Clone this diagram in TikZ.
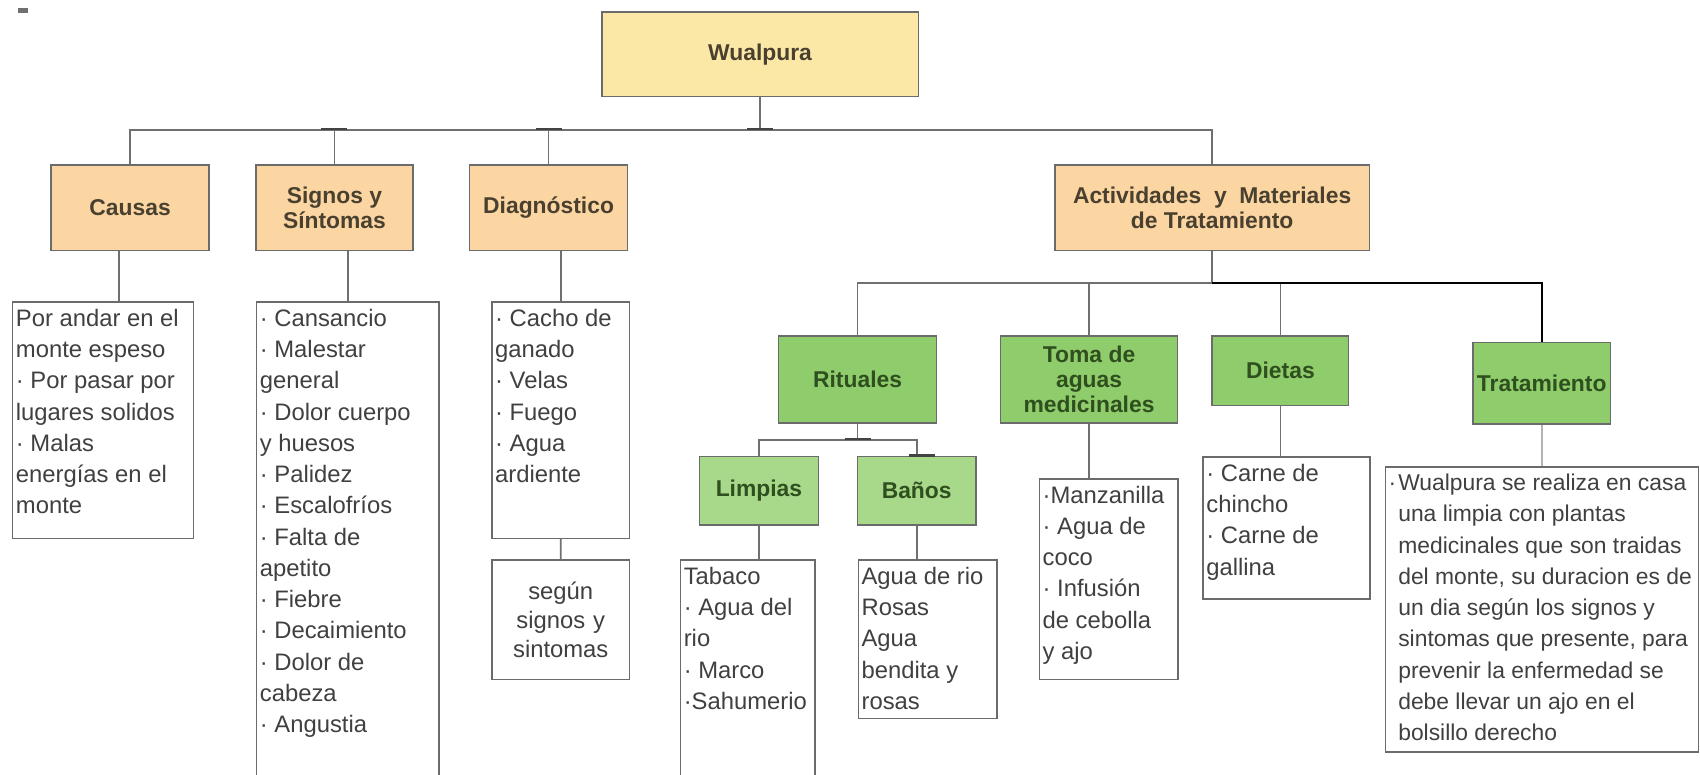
\documentclass[tikz,border=0pt]{standalone}
\usepackage{fontspec}
\setmainfont{Liberation Sans}

\definecolor{cYellow}{HTML}{FCE8A6}
\definecolor{cOrange}{HTML}{FBD6A2}
\definecolor{cGreen}{HTML}{8FCC6B}
\definecolor{cLightGreen}{HTML}{A8D98B}
\definecolor{cLine}{HTML}{6B6B6B}
\definecolor{cLink}{HTML}{707070}
\definecolor{cFaint}{HTML}{B4B4B4}
\definecolor{cBrown}{HTML}{4A4030}
\definecolor{cDarkGreen}{HTML}{2F4F1F}
\definecolor{cText}{HTML}{404040}

\newcommand{\cbody}[3]{\parbox[t][#2][t]{#1}{\raggedright #3}}

\begin{document}
\begin{tikzpicture}[x=0.02cm,y=-0.02cm,
    hdr/.style={draw=cLine,line width=0.8pt,align=center,inner sep=2pt,
        font=\bfseries\fontsize{12}{13}\selectfont},
    hdrO/.style={hdr,fill=cOrange,text=cBrown},
    hdrG/.style={hdr,fill=cGreen,text=cDarkGreen},
    txt/.style={draw=cLine,line width=0.8pt,fill=white,anchor=north west,
        inner xsep=0.06cm,inner ysep=0.13cm,text=cText,
        font=\fontsize{12.5}{16.4}\selectfont},
    link/.style={draw=cLink,line width=0.9pt},
    tick/.style={draw=cLink!60!black,line width=1.4pt}]

\useasboundingbox (0,0) rectangle (1568,714);
\fill[cLink] (17,7) rectangle (26,12);

% level 0 and 1
\node[hdr,fill=cYellow,text=cBrown,minimum width=5.84cm,minimum height=1.56cm] (wual) at (701,50) {Wualpura};
\node[hdrO,minimum width=2.92cm,minimum height=1.58cm] (causas) at (120,191.5) {Causas};
\node[hdrO,minimum width=2.9cm,minimum height=1.58cm] (signos) at (308.5,191.5) {Signos y\\Síntomas};
\node[hdrO,minimum width=2.92cm,minimum height=1.58cm] (diag) at (506,191.5) {Diagnóstico};
\node[hdrO,minimum width=5.8cm,minimum height=1.58cm] (activ) at (1118,191.5) {Actividades\ \ y\ \ Materiales\\de Tratamiento};

% level 2 and 3
\node[hdrG,minimum width=2.92cm,minimum height=1.6cm] (ritual) at (791,350) {Rituales};
\node[hdrG,minimum width=3.26cm,minimum height=1.6cm] (toma) at (1004.5,350) {Toma de\\aguas\\medicinales};
\node[hdrG,minimum width=2.52cm,minimum height=1.28cm] (dietas) at (1181,342) {Dietas};
\node[hdrG,minimum width=2.4cm,minimum height=1.5cm] (trat) at (1422,353.5) {Tratamiento};
\node[hdrG,fill=cLightGreen,minimum width=2.2cm,minimum height=1.26cm] (limpias) at (700,452.5) {Limpias};
\node[hdrG,fill=cLightGreen,minimum width=2.18cm,minimum height=1.26cm] (banos) at (845.5,452.5) {Baños};

% text boxes
\node[txt] (causasT) at (11,278) {\cbody{3.22cm}{4.1cm}{Por andar en el\\monte espeso\\· Por pasar por\\lugares solidos\\· Malas\\energías en el\\monte}};
\node[txt] (signosT) at (236,278) {\cbody{3.24cm}{8.94cm}{· Cansancio\\· Malestar\\general\\· Dolor cuerpo\\y huesos\\· Palidez\\· Escalofríos\\· Falta de\\apetito\\· Fiebre\\· Decaimiento\\· Dolor de\\cabeza\\· Angustia}};
\node[txt] (diagT) at (453,278) {\cbody{2.42cm}{4.1cm}{· Cacho de\\ganado\\· Velas\\· Fuego\\· Agua\\ardiente}};
\node[txt,align=center,text width=2.3cm,minimum width=2.54cm,minimum height=2.2cm,
    font=\fontsize{12.5}{15}\selectfont] (segunT) at (453,516) {según\\signos y\\sintomas};
\node[txt] (limpiasT) at (627,516) {\cbody{2.36cm}{4.14cm}{Tabaco\\· Agua del\\rio\\· Marco\\·Sahumerio}};
\node[txt] (banosT) at (791,516) {\cbody{2.44cm}{2.66cm}{Agua de rio\\Rosas\\Agua\\bendita y\\rosas}};
\node[txt] (tomaT) at (958,441) {\cbody{2.44cm}{3.44cm}{·Manzanilla\\· Agua de\\coco\\· Infusión\\de cebolla\\y ajo}};
\node[txt] (dietasT) at (1109,421) {\cbody{2.96cm}{2.36cm}{· Carne de\\chincho\\· Carne de\\gallina}};
\node[txt,font=\fontsize{12}{16.4}\selectfont] (tratT) at (1277,430) {\cbody{5.66cm}{5.0cm}{\makebox[0.18cm][l]{·}\parbox[t]{5.6cm}{\raggedright
    Wualpura se realiza en casa\\una limpia con plantas\\medicinales que son traidas\\del monte, su duracion es de\\un dia según los signos y\\sintomas que presente, para\\prevenir la enfermedad se\\debe llevar un ajo en el\\bolsillo derecho}}};

% connectors
\foreach \n in {causas,signos,diag,activ}
    \draw[link] (wual.south) -- ++(0,30) -| (\n.north);
\coordinate (causasS) at ([xshift=-0.2cm]causas.south);
\draw[link] (causasS) -- (causasS |- causasT.north);
\draw[link] (signosT.north) -- (signosT.north |- signos.south);
\draw[link] (diagT.north) -- (diagT.north |- diag.south);
\draw[link] (diagT.south) -- (segunT.north);
\foreach \n in {ritual,toma,dietas}
    \draw[link] (activ.south) -- ++(0,29) -| (\n.north);
\draw[link,draw=black] (activ.south) ++(0,29) -| (trat.north);
\foreach \n in {limpias,banos}
    \draw[link] (ritual.south) -- ++(0,15) -| (\n.north);
\draw[link] (limpias.south) -- (limpias.south |- limpiasT.north);
\draw[link] (banos.south) -- (banos.south |- banosT.north);
\draw[link] (toma.south) -- (toma.south |- tomaT.north);
\draw[link] (dietas.south) -- (dietas.south |- dietasT.north);
\draw[link,draw=cFaint] (trat.south) -- (trat.south |- tratT.north);

% junction marks
\foreach \x/\y in {308/119, 506/119, 701/119, 791/405, 850/420}
{
    \draw[tick] (\x-12,\y) -- (\x+12,\y);
};

\end{tikzpicture}
\end{document}
